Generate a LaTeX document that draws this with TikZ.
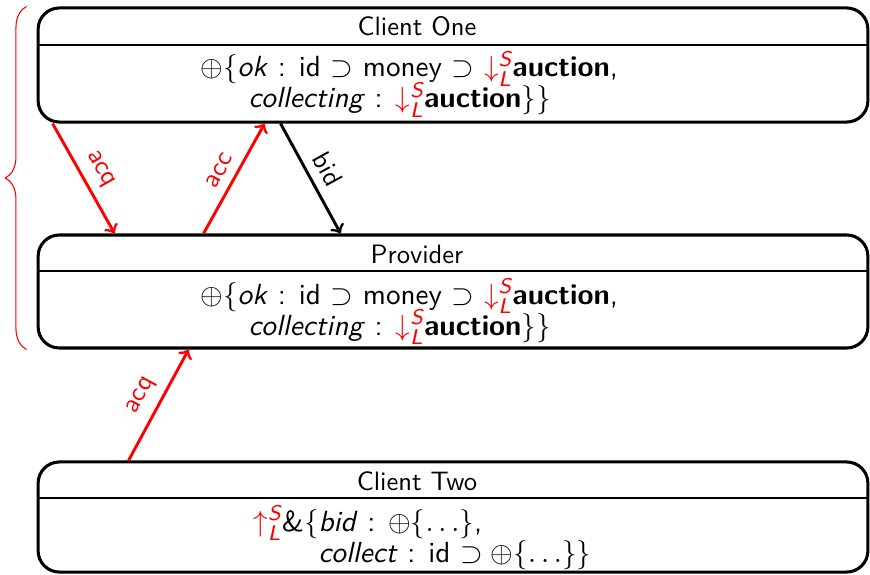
\documentclass[tikz,border=0pt]{standalone}
\usepackage{amsmath}
\usetikzlibrary{calc,decorations.pathreplacing}
\newcommand\dnSL{\textcolor{red}{$\downarrow^{\text{\slshape S}}_{\text{\slshape L}}$}}
\newcommand\upSL{\textcolor{red}{$\uparrow^{\text{\slshape S}}_{\text{\slshape L}}$}}
\begin{document}
\begin{tikzpicture}[x=0.376pt,y=-0.376pt,font=\sffamily,
  box/.style={draw,line width=1.15pt,rounded corners=8pt,minimum width=312pt,inner sep=0pt},
  hdr/.style={line width=0.75pt},
  txt/.style={anchor=base west,inner sep=0pt,font=\sffamily\fontsize{10.95}{13}\selectfont},
  ttl/.style={anchor=base,inner sep=0pt},
  redarrow/.style={->,red,line width=1.1pt},
  blackarrow/.style={->,black,line width=1.1pt},
  lab/.style={midway,above,sloped}]
\useasboundingbox (0,0) rectangle (870,574);
% boxes
\node[box,minimum height=42.9pt] (c1) at (453,65) {};
\node[box,minimum height=42.5pt] (prov) at (453,291.5) {};
\node[box,minimum height=41.4pt] (c2) at (453,517) {};
% header lines
\draw[hdr] (38,45) -- (868,45);
\draw[hdr] (38,271) -- (868,271);
\draw[hdr] (38,498) -- (868,498);
% titles
\node[ttl] (t1) at (417,36) {Client One};
\node[ttl] (t2) at (417,263) {Provider};
\node[ttl] (t3) at (417,490) {Client Two};
% bodies
\node[txt] (b1a) at (200,77) {$\oplus\{$\textit{ok} : id $\supset$ money $\supset$ \dnSL\textbf{auction},};
\node[txt] (b1b) at (248,108) {\textit{collecting} : \dnSL\textbf{auction}$\}\}$};
\node[txt] (b2a) at (200,304) {$\oplus\{$\textit{ok} : id $\supset$ money $\supset$ \dnSL\textbf{auction},};
\node[txt] (b2b) at (248,335) {\textit{collecting} : \dnSL\textbf{auction}$\}\}$};
\node[txt] (b3a) at (253,531) {\upSL\&$\{$\textit{bid} : $\oplus\{\ldots\}$,};
\node[txt] (b3b) at (318,562) {\textit{collect} : id $\supset\oplus\{\ldots\}\}$};
% arrows
\draw[redarrow] ($(c1.south west)+(16,0)$) -- node[lab,red]{acq} ($(prov.north west)+(78,0)$);
\draw[redarrow] ($(prov.north west)+(167,0)$) -- node[lab,red]{acc} ($(c1.south west)+(228,0)$);
\draw[blackarrow] ($(c1.south west)+(244,0)$) -- node[lab]{bid} ($(prov.north west)+(304,0)$);
\draw[redarrow] ($(c2.north west)+(92,0)$) -- node[lab,red]{acq} ($(prov.south west)+(152,0)$);
% brace
\draw[red,line width=0.4pt,decorate,decoration={brace,amplitude=8pt}]
  ($(prov.south west)+(-10,0)$) -- ($(c1.north west)+(-10,0)$);
\end{tikzpicture}
\end{document}
